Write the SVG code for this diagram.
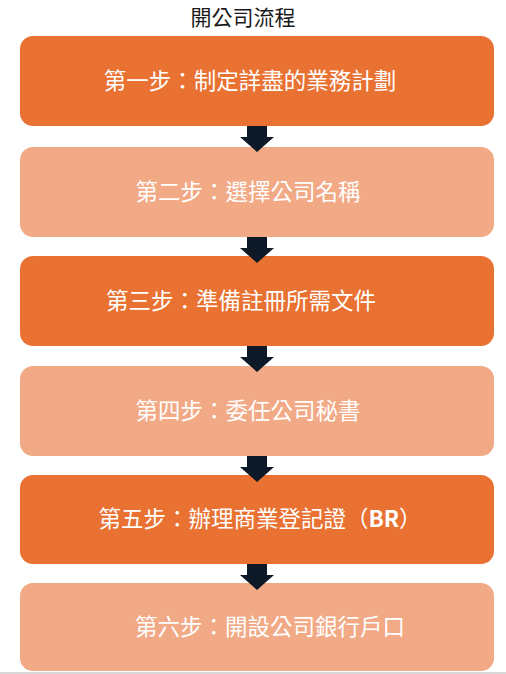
<svg xmlns="http://www.w3.org/2000/svg" width="506" height="674" viewBox="0 0 506 674">
<style>
.dark{fill:#E97132}
.light{fill:#F2A985}
.lbl{fill:#ffffff;font-family:"Noto Sans CJK TC","Noto Sans CJK SC",sans-serif;font-size:22.5px;text-anchor:middle}
.title{fill:#1a1a1a;font-family:"Noto Sans CJK TC","Noto Sans CJK SC",sans-serif;font-size:21px;text-anchor:middle}
.arr{fill:#0d1926}
</style>
<defs>
<path id="arrow" d="M-10,0 H10 V11 H17 L0,26 L-17,11 H-10 Z"/>
</defs>
<rect width="506" height="674" fill="#ffffff"/>
<text class="title" x="243" y="25">開公司流程</text>
<g id="node1"><rect class="dark" x="20" y="36" width="474" height="90" rx="13"/><text class="lbl" x="250" y="89">第一步：制定詳盡的業務計劃</text></g>
<g id="node2"><rect class="light" x="20" y="147" width="474" height="90" rx="13"/><text class="lbl" x="248" y="200">第二步：選擇公司名稱</text></g>
<g id="node3"><rect class="dark" x="20" y="256" width="474" height="90" rx="13"/><text class="lbl" x="241" y="309">第三步：準備註冊所需文件</text></g>
<g id="node4"><rect class="light" x="20" y="366" width="474" height="90" rx="13"/><text class="lbl" x="248" y="419">第四步：委任公司秘書</text></g>
<g id="node5"><rect class="dark" x="20" y="475" width="474" height="89" rx="13"/><text class="lbl" x="260" y="527">第五步：辦理商業登記證（<tspan font-weight="bold">BR</tspan>）</text></g>
<g id="node6"><rect class="light" x="20" y="583" width="474" height="88" rx="13"/><text class="lbl" x="270" y="635">第六步：開設公司銀行戶口</text></g>
<g id="connectors">
<use href="#arrow" class="arr" x="257" y="126"/>
<use href="#arrow" class="arr" x="257" y="237"/>
<use href="#arrow" class="arr" x="257" y="346"/>
<use href="#arrow" class="arr" x="257" y="456"/>
<use href="#arrow" class="arr" x="257" y="564"/>
</g>
<rect x="0" y="672" width="506" height="2" fill="#d9d9d9"/>
</svg>
